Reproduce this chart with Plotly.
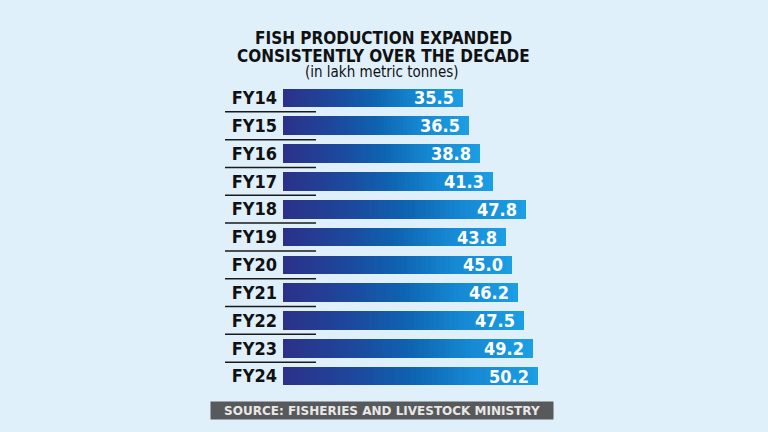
import plotly.graph_objects as go

years = ["FY14", "FY15", "FY16", "FY17", "FY18", "FY19", "FY20", "FY21", "FY22", "FY23", "FY24"]
production = [35.5, 36.5, 38.8, 41.3, 47.8, 43.8, 45.0, 46.2, 47.5, 49.2, 50.2]

title_lines = ["FISH PRODUCTION EXPANDED", "CONSISTENTLY OVER THE DECADE"]
subtitle = "(in lakh metric tonnes)"
source = "SOURCE: FISHERIES AND LIVESTOCK MINISTRY"

W, H = 768, 432
ML, MR, MT, MB = 283, 180, 84, 42
PW, PH = W - ML - MR, H - MT - MB
XMAX = 60

BG = "#dff0fb"
FONT = "DejaVu Sans Condensed"
stops = [(0.0, (44, 48, 136)), (0.3, (28, 74, 158)), (0.5, (14, 98, 176)),
         (0.75, (22, 137, 211)), (1.0, (27, 159, 228))]


def grad(t):
    for (t0, c0), (t1, c1) in zip(stops, stops[1:]):
        if t <= t1:
            f = (t - t0) / (t1 - t0)
            return "rgb(%d,%d,%d)" % tuple(round(a + (b - a) * f) for a, b in zip(c0, c1))
    return "rgb(%d,%d,%d)" % stops[-1][1]


def px(x):
    return (x - ML) / PW


def py(y):
    return (H - MB - y) / PH


fig = go.Figure()
N = 48
# overlaid bars, longest (lightest) first, so each bar shades from navy to sky blue
for k in range(N):
    frac = (N - k) / N
    fig.add_trace(go.Bar(
        y=years, x=[v * frac for v in production], orientation="h",
        marker=dict(color=grad(frac - 0.5 / N), line=dict(width=0)),
        width=0.67, hoverinfo="skip", showlegend=False,
    ))

shapes = []
for i in range(len(years) - 1):
    shapes.append(dict(type="line", xref="paper", yref="y", x0=px(225), x1=px(316),
                       y0=i + 0.5, y1=i + 0.5, line=dict(color="#1a1a1a", width=1.5)))

annotations = []
for yr, v in zip(years, production):
    annotations.append(dict(text="%.1f" % v, x=v, y=yr, xref="x", yref="y", xanchor="right",
                            yanchor="middle", xshift=-7, showarrow=False,
                            font=dict(family=FONT, size=18, color="white", weight="bold")))

common = dict(xref="paper", yref="paper", xanchor="center", yanchor="middle", showarrow=False)
annotations += [
    dict(text="<b>" + title_lines[0] + "</b>", x=px(383), y=py(38),
         font=dict(family=FONT, size=17, color="#111"), **common),
    dict(text="<b>" + title_lines[1] + "</b>", x=px(383), y=py(56),
         font=dict(family=FONT, size=17, color="#111"), **common),
    dict(text=subtitle, x=px(382), y=py(72),
         font=dict(family=FONT, size=15, color="#111"), **common),
    dict(text="<b>" + source + "</b>", x=px(382), y=py(410.5),
         width=342, height=17, bgcolor="#58595b", borderpad=0,
         font=dict(family="DejaVu Sans", size=12, color="#e8e8e8"), **common),
]

fig.update_layout(
    width=W, height=H, barmode="overlay", bargap=0,
    margin=dict(l=ML, r=MR, t=MT, b=MB),
    paper_bgcolor=BG, plot_bgcolor=BG,
    shapes=shapes, annotations=annotations,
)
fig.update_xaxes(range=[0, XMAX], visible=False, fixedrange=True)
fig.update_yaxes(autorange="reversed", showgrid=False, zeroline=False, showline=False, ticks="",
                 ticklabelstandoff=5, fixedrange=True,
                 tickfont=dict(family=FONT, size=18, color="#111", weight="bold"))

fig.write_html("out.html", config={"displayModeBar": False},
               post_script="document.body.style.margin='0';document.body.style.overflow='hidden';")
